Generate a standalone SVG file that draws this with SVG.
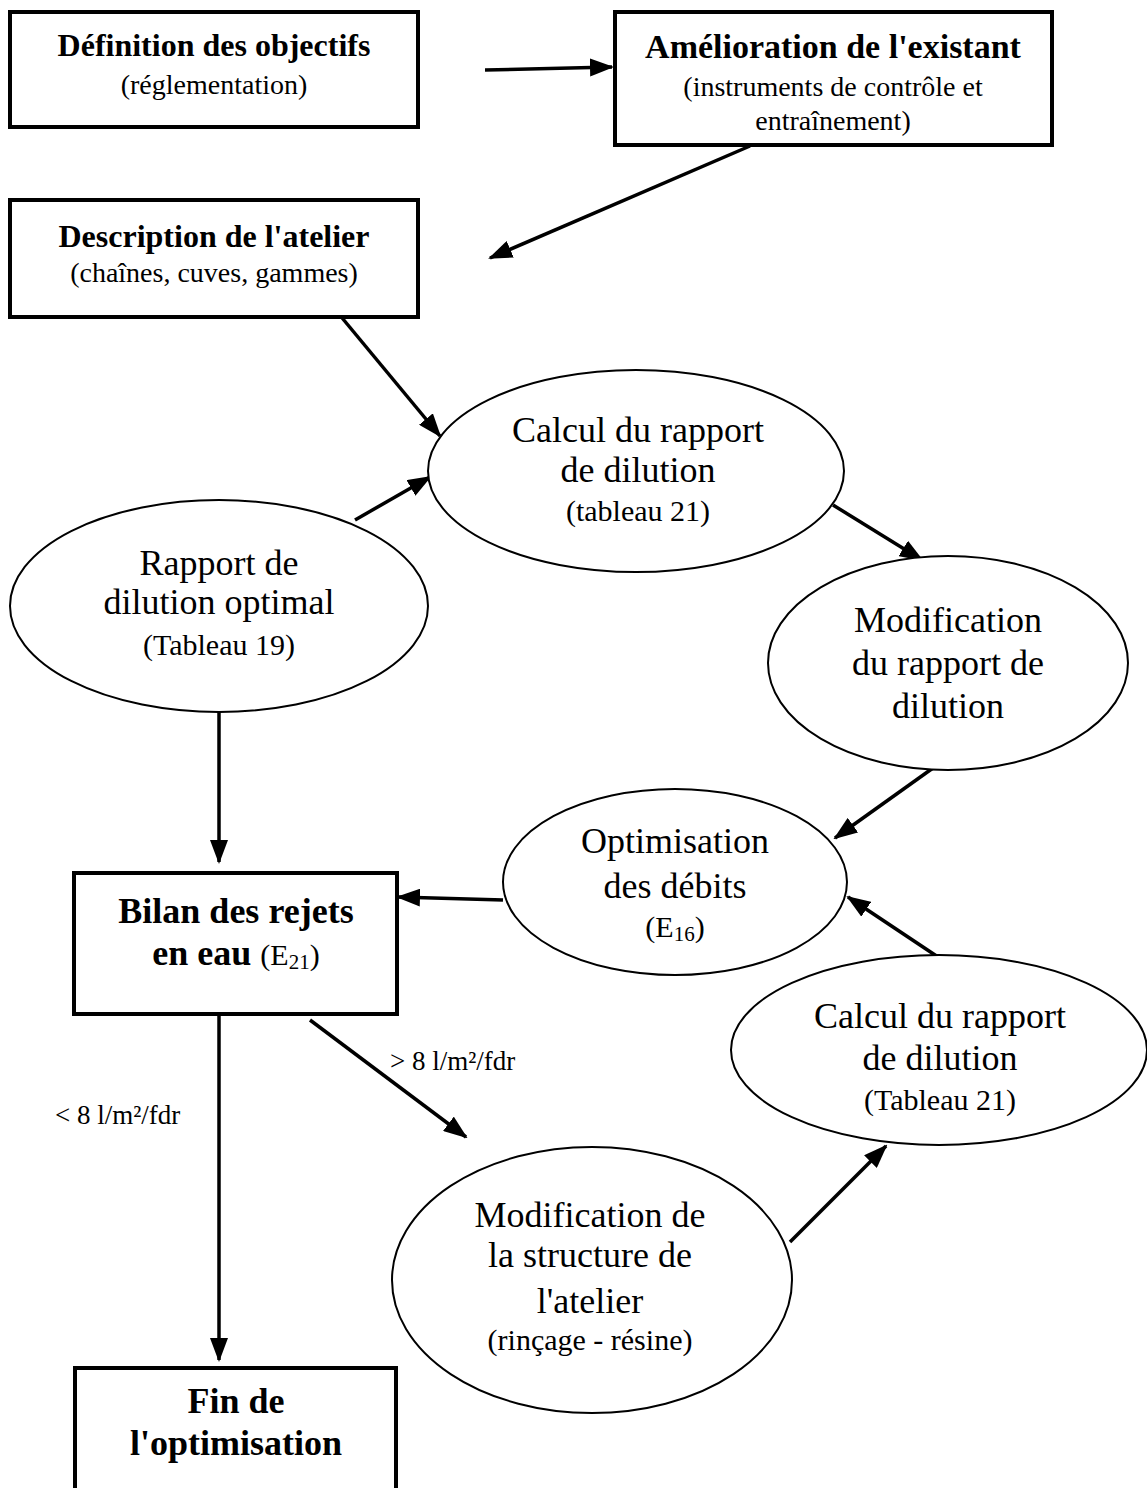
<svg xmlns="http://www.w3.org/2000/svg" width="1147" height="1488" viewBox="0 0 1147 1488">
<style>
text{font-family:"Liberation Serif","Times New Roman",serif;fill:#000;text-anchor:middle}
.t{font-weight:bold;font-size:32px}
.tb{font-weight:bold;font-size:36px}
.s{font-size:28px}
.e{font-size:36px}
.es{font-size:30px}
.lab{font-size:27px;text-anchor:start}
.box{fill:#fff;stroke:#000;stroke-width:4}
.ell{fill:#fff;stroke:#000;stroke-width:2}
.c{fill:none;stroke:#000;stroke-width:3.5;marker-end:url(#ah)}
</style>
<defs>
<marker id="ah" markerUnits="userSpaceOnUse" markerWidth="24" markerHeight="18" refX="22" refY="9" orient="auto" viewBox="0 0 24 18">
<path d="M0,0 L24,9 L0,18 z" fill="#000"/>
</marker>
</defs>
<rect width="1147" height="1488" fill="#fff"/>

<g id="connectors">
<path class="c" d="M485,70 L612,67"/>
<path class="c" d="M750,146 L490,258"/>
<path class="c" d="M338,313 L440,436"/>
<path class="c" d="M355,520 L430,477"/>
<path class="c" d="M833,505 L922,560"/>
<path class="c" d="M933,768 L835,838"/>
<path class="c" d="M503,900 L398,897"/>
<path class="c" d="M938,957 L848,897"/>
<path class="c" d="M219,712 L219,862"/>
<path class="c" d="M219,1014 L219,1360"/>
<path class="c" d="M310,1020 L466,1137"/>
<path class="c" d="M790,1242 L886,1146"/>
</g>

<g id="n_definition">
<rect class="box" x="10" y="12" width="408" height="115"/>
<text class="t" x="214" y="56">Définition des objectifs</text>
<text class="s" x="214" y="94">(réglementation)</text>
</g>

<g id="n_amelioration">
<rect class="box" x="615" y="12" width="437" height="133"/>
<text class="t" x="833" y="58" style="font-size:34px">Amélioration de l'existant</text>
<text class="s" x="833" y="96">(instruments de contrôle et</text>
<text class="s" x="833" y="130">entraînement)</text>
</g>

<g id="n_description">
<rect class="box" x="10" y="200" width="408" height="117"/>
<text class="t" x="214" y="247">Description de l'atelier</text>
<text class="s" x="214" y="282">(chaînes, cuves, gammes)</text>
</g>

<g id="n_calcul1">
<ellipse class="ell" cx="636" cy="471" rx="208" ry="101"/>
<text class="e" x="638" y="442">Calcul du rapport</text>
<text class="e" x="638" y="482">de dilution</text>
<text class="es" x="638" y="521">(tableau 21)</text>
</g>

<g id="n_rapport">
<ellipse class="ell" cx="219" cy="606" rx="209" ry="106"/>
<text class="e" x="219" y="575">Rapport de</text>
<text class="e" x="219" y="614">dilution optimal</text>
<text class="es" x="219" y="655">(Tableau 19)</text>
</g>

<g id="n_modif">
<ellipse class="ell" cx="948" cy="663" rx="180" ry="107"/>
<text class="e" x="948" y="632">Modification</text>
<text class="e" x="948" y="675">du rapport de</text>
<text class="e" x="948" y="718">dilution</text>
</g>

<g id="n_optimisation">
<ellipse class="ell" cx="675" cy="882" rx="172" ry="93"/>
<text class="e" x="675" y="853">Optimisation</text>
<text class="e" x="675" y="898">des débits</text>
<text class="es" x="675" y="937">(E<tspan style="font-size:21px" dy="4">16</tspan><tspan dy="-4">)</tspan></text>
</g>

<g id="n_bilan">
<rect class="box" x="74" y="873" width="323" height="141"/>
<text class="tb" x="236" y="923">Bilan des rejets</text>
<text x="236" y="965"><tspan style="font-weight:bold;font-size:36px">en eau </tspan><tspan style="font-size:30px">(E</tspan><tspan style="font-size:21px" dy="4">21</tspan><tspan style="font-size:30px" dy="-4">)</tspan></text>
</g>

<g id="n_calcul2">
<ellipse class="ell" cx="939" cy="1050" rx="208" ry="95"/>
<text class="e" x="940" y="1028">Calcul du rapport</text>
<text class="e" x="940" y="1070">de dilution</text>
<text class="es" x="940" y="1110">(Tableau 21)</text>
</g>

<g id="n_structure">
<ellipse class="ell" cx="592" cy="1280" rx="200" ry="133"/>
<text class="e" x="590" y="1227">Modification de</text>
<text class="e" x="590" y="1267">la structure de</text>
<text class="e" x="590" y="1313">l'atelier</text>
<text class="es" x="590" y="1350">(rinçage - résine)</text>
</g>

<g id="n_fin">
<rect class="box" x="75" y="1368" width="321" height="140"/>
<text class="tb" x="236" y="1413">Fin de</text>
<text class="tb" x="236" y="1455">l'optimisation</text>
</g>

<g id="labels">
<text class="lab" x="390" y="1070">&gt; 8 l/m²/fdr</text>
<text class="lab" x="55" y="1124">&lt; 8 l/m²/fdr</text>
</g>
</svg>
